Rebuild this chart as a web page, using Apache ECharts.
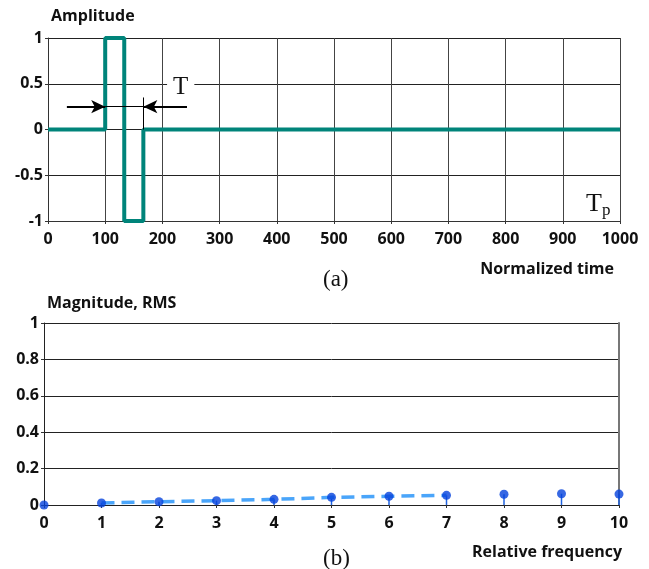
<!DOCTYPE html>
<html>
<head>
<meta charset="utf-8">
<script src="https://cdn.jsdelivr.net/npm/echarts@6/dist/echarts.min.js"></script>
<style>
  html, body { margin: 0; padding: 0; background: #fff; }
  #chart { width: 649px; height: 569px; }
</style>
</head>
<body>
<div id="chart"></div>
<script>
// (a) pulse in time
const pulseTime = [0, 100, 100, 133.3, 133.3, 166.7, 166.7, 1000]
const pulseAmp = [0, 0, 1, 1, -1, -1, 0, 0]
const timeTicks = [0, 1000, 100]
const ampTicks = [-1, 1, 0.5]

// (b) spectrum
const freq = [0, 1, 2, 3, 4, 5, 6, 7, 8, 9, 10]
const magnitude = [0, 0.011, 0.018, 0.024, 0.031, 0.042, 0.048, 0.053, 0.059, 0.062, 0.060]
const envelopeFreq = [1, 2, 3, 4, 5, 6, 7]

const labelFont = { color: '#111', fontWeight: 'bold', fontSize: 16, fontFamily: 'Open Sans' }
const serif = 'Liberation Serif'

let myChart = echarts.init(document.getElementById('chart'))

const envelope = envelopeFreq.map(f => [f, magnitude[freq.indexOf(f)]])
const stems = freq.map((f, i) => [f, magnitude[i]])

let option = {
  animation: false,
  title: [
    { text: 'Amplitude', left: 46, top: 3, textStyle: labelFont },
    { text: 'Normalized time', right: 30, top: 256, textStyle: labelFont },
    { text: '(a)', left: 318, top: 263, textStyle: { fontFamily: serif, fontSize: 23, fontWeight: 'normal', color: '#111' } },
    { text: 'Magnitude, RMS', left: 42, top: 290, textStyle: labelFont },
    { text: 'Relative frequency', right: 22, top: 539, textStyle: labelFont },
    { text: '(b)', left: 318, top: 542, textStyle: { fontFamily: serif, fontSize: 23, fontWeight: 'normal', color: '#111' } }
  ],
  grid: [
    { left: 48, top: 38, width: 572, height: 183 },
    { left: 44, top: 323, width: 575, height: 182 }
  ],
  xAxis: [
    {
      gridIndex: 0, type: 'value', min: timeTicks[0], max: timeTicks[1], interval: timeTicks[2],
      axisLine: { show: true, onZero: false, lineStyle: { color: '#333' } },
      axisTick: { show: true, length: 3, lineStyle: { color: '#333' } },
      axisLabel: { margin: 10, formatter: v => String(v), ...labelFont },
      splitLine: { show: true, lineStyle: { color: '#444', width: 1 } }
    },
    {
      gridIndex: 1, type: 'value', min: 0, max: 10, interval: 1,
      axisLine: { show: true, onZero: false, lineStyle: { color: '#222' } },
      axisTick: { show: true, length: 3, lineStyle: { color: '#333' } },
      axisLabel: { margin: 10, ...labelFont },
      splitLine: { show: false }
    }
  ],
  yAxis: [
    {
      gridIndex: 0, type: 'value', min: ampTicks[0], max: ampTicks[1], interval: ampTicks[2],
      axisLine: { show: true, lineStyle: { color: '#333' } },
      axisTick: { show: true, length: 3, lineStyle: { color: '#333' } },
      axisLabel: { margin: 5, ...labelFont },
      splitLine: { show: true, lineStyle: { color: '#222', width: 1 } }
    },
    {
      gridIndex: 1, type: 'value', min: 0, max: 1, interval: 0.2,
      axisLine: { show: true, lineStyle: { color: '#222' } },
      axisTick: { show: true, length: 3, lineStyle: { color: '#333' } },
      axisLabel: { margin: 5, ...labelFont },
      splitLine: { show: true, lineStyle: { color: '#222', width: 1 } }
    },
    {
      gridIndex: 1, type: 'value', min: 0, max: 1, position: 'right',
      axisLine: { show: true, lineStyle: { color: '#777', width: 2 } },
      axisTick: { show: false }, axisLabel: { show: false }, splitLine: { show: false }
    }
  ],
  series: [
    {
      type: 'line', xAxisIndex: 0, yAxisIndex: 0,
      data: pulseTime.map((t, i) => [t, pulseAmp[i]]),
      showSymbol: false, symbol: 'none', z: 3,
      lineStyle: { color: '#00847a', width: 4 },
      markLine: {
        silent: true, symbol: ['none', 'none'], label: { show: false },
        lineStyle: { color: '#000', width: 2, type: 'solid' },
        data: [
          [{ coord: [33, 0.25], symbol: 'none' }, { coord: [100, 0.25], symbol: 'arrow', symbolSize: [10, 14] }],
          [{ coord: [100, 0.25] }, { coord: [166.7, 0.25], lineStyle: { width: 1 } }],
          [{ coord: [243, 0.25], symbol: 'none' }, { coord: [166.7, 0.25], symbol: 'arrow', symbolSize: [10, 14] }],
          [{ coord: [166.7, 0.35], lineStyle: { width: 1 } }, { coord: [166.7, 0] }]
        ]
      },
      markPoint: {
        silent: true, symbol: 'rect', symbolSize: 0,
        data: [
          {
            coord: [232, 0.46],
            label: { show: true, formatter: 'T', fontFamily: serif, fontSize: 25, color: '#111', backgroundColor: '#fff', padding: [0, 6, 0, 6] }
          },
          {
            coord: [962, -0.82],
            label: {
              show: true, formatter: '{a|T}{b|p}',
              rich: {
                a: { fontFamily: serif, fontSize: 26, color: '#111' },
                b: { fontFamily: serif, fontSize: 17, color: '#111', padding: [12, 0, 0, 0] }
              }
            }
          }
        ]
      }
    },
    {
      // thin stems from zero up to each point
      type: 'custom', xAxisIndex: 1, yAxisIndex: 1, data: stems, z: 2,
      renderItem: function (params, api) {
        let top = api.coord([api.value(0), api.value(1)])
        let base = api.coord([api.value(0), 0])
        return {
          type: 'line',
          shape: { x1: top[0], y1: top[1], x2: base[0], y2: base[1] },
          style: { stroke: '#1f63e0', lineWidth: 1.5 }
        }
      }
    },
    {
      type: 'line', xAxisIndex: 1, yAxisIndex: 1, data: envelope,
      symbol: 'none', z: 3,
      lineStyle: { color: '#4aa5fa', width: 3.5, type: [13, 7] }
    },
    {
      type: 'scatter', xAxisIndex: 1, yAxisIndex: 1, data: stems,
      symbolSize: 9, itemStyle: { color: '#0542dc' }, z: 4
    }
  ]
}
myChart.setOption(option, true)
</script>
</body>
</html>
